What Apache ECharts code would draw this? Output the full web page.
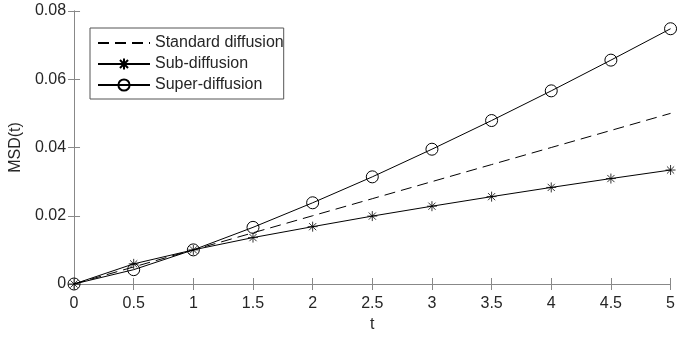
<!DOCTYPE html>
<html>
<head>
<meta charset="utf-8">
<script src="https://cdn.jsdelivr.net/npm/echarts@6/dist/echarts.min.js"></script>
<style>
  html, body { margin: 0; padding: 0; background: #fff; }
  #main { width: 678px; height: 338px; }
</style>
</head>
<body>
<div id="main"></div>
<script>
// values
var tValues = [0, 0.5, 1, 1.5, 2, 2.5, 3, 3.5, 4, 4.5, 5];
var standardMsd = [0, 0.005, 0.01, 0.015, 0.02, 0.025, 0.03, 0.035, 0.04, 0.045, 0.05];
var subMsd = [0, 0.0059, 0.01, 0.0136, 0.0168, 0.0199, 0.0228, 0.0256, 0.0283, 0.0309, 0.0334];
var superMsd = [0, 0.0042, 0.01, 0.0166, 0.0238, 0.0314, 0.0395, 0.0479, 0.0566, 0.0656, 0.0748];
var seriesNames = ['Standard diffusion', 'Sub-diffusion', 'Super-diffusion'];

function pairs(ys) {
    return tValues.map(function (t, i) { return [t, ys[i]]; });
}

var FONT = '"Liberation Sans", Arial, Helvetica, sans-serif';
var AXIS_COLOR = '#888';
var TEXT_COLOR = '#262626';
var STAR = 'path://M0,-5L0,5M-5,0L5,0M-3.6,-3.6L3.6,3.6M-3.6,3.6L3.6,-3.6';

var myChart = echarts.init(document.getElementById('main'));

var hiddenAxis = {
    axisLine: { show: true, lineStyle: { color: AXIS_COLOR, width: 1 } },
    axisTick: { show: true, inside: true, length: 6, lineStyle: { color: AXIS_COLOR } },
    axisLabel: { show: false },
    splitLine: { show: false }
};

var option = {
    animation: false,
    textStyle: { fontFamily: FONT },
    grid: { left: 72, right: 5, top: 11, bottom: 54 },
    legend: {
        data: [
            // dashed line only, no marker
            { name: seriesNames[0], itemStyle: { color: 'rgba(0,0,0,0)', borderWidth: 0 } },
            seriesNames[1],
            seriesNames[2]
        ],
        orient: 'vertical',
        left: 90,
        top: 28,
        itemWidth: 52,
        itemHeight: 14,
        itemGap: 5,
        padding: [7, 0, 6, 7],
        borderColor: '#555',
        borderWidth: 1,
        backgroundColor: '#fff',
        textStyle: { fontFamily: FONT, fontSize: 16, color: TEXT_COLOR }
    },
    xAxis: [
        {
            type: 'value',
            min: 0,
            max: 5,
            interval: 0.5,
            name: 't',
            nameLocation: 'middle',
            nameGap: 32,
            nameTextStyle: { fontFamily: FONT, fontSize: 16, color: TEXT_COLOR },
            axisLine: { show: true, onZero: false, lineStyle: { color: AXIS_COLOR, width: 1 } },
            axisTick: { show: true, inside: true, length: 6, lineStyle: { color: AXIS_COLOR } },
            axisLabel: { fontFamily: FONT, fontSize: 16, color: TEXT_COLOR, margin: 12 },
            splitLine: { show: false }
        },
        Object.assign({ type: 'value', min: 0, max: 5, interval: 0.5, position: 'top' }, hiddenAxis)
    ],
    yAxis: [
        {
            type: 'value',
            min: 0,
            max: 0.08,
            interval: 0.02,
            name: 'MSD(t)',
            nameLocation: 'middle',
            nameGap: 48,
            nameTextStyle: { fontFamily: FONT, fontSize: 16, color: TEXT_COLOR },
            axisLine: { show: true, onZero: false, lineStyle: { color: AXIS_COLOR, width: 1 } },
            axisTick: { show: true, inside: true, length: 6, lineStyle: { color: AXIS_COLOR } },
            axisLabel: { fontFamily: FONT, fontSize: 16, color: TEXT_COLOR, margin: 8 },
            splitLine: { show: false }
        },
        Object.assign({ type: 'value', min: 0, max: 0.08, interval: 0.02, position: 'right' }, hiddenAxis)
    ],
    series: [
        {
            name: seriesNames[0],
            type: 'line',
            data: pairs(standardMsd),
            symbol: 'none',
            lineStyle: { color: '#000', width: 1, type: [11, 6] },
            itemStyle: { color: '#000' },
            z: 2
        },
        {
            name: seriesNames[1],
            type: 'line',
            data: pairs(subMsd),
            symbol: STAR,
            symbolSize: 10,
            lineStyle: { color: '#000', width: 1 },
            itemStyle: { color: '#000', borderColor: '#000', borderWidth: 0.8 },
            z: 3
        },
        {
            name: seriesNames[2],
            type: 'line',
            data: pairs(superMsd),
            symbol: 'circle',
            symbolSize: 12,
            lineStyle: { color: '#000', width: 1 },
            itemStyle: { color: 'rgba(255,255,255,0)', borderColor: '#000', borderWidth: 1 },
            z: 4
        }
    ]
};
myChart.setOption(option);
</script>
</body>
</html>
